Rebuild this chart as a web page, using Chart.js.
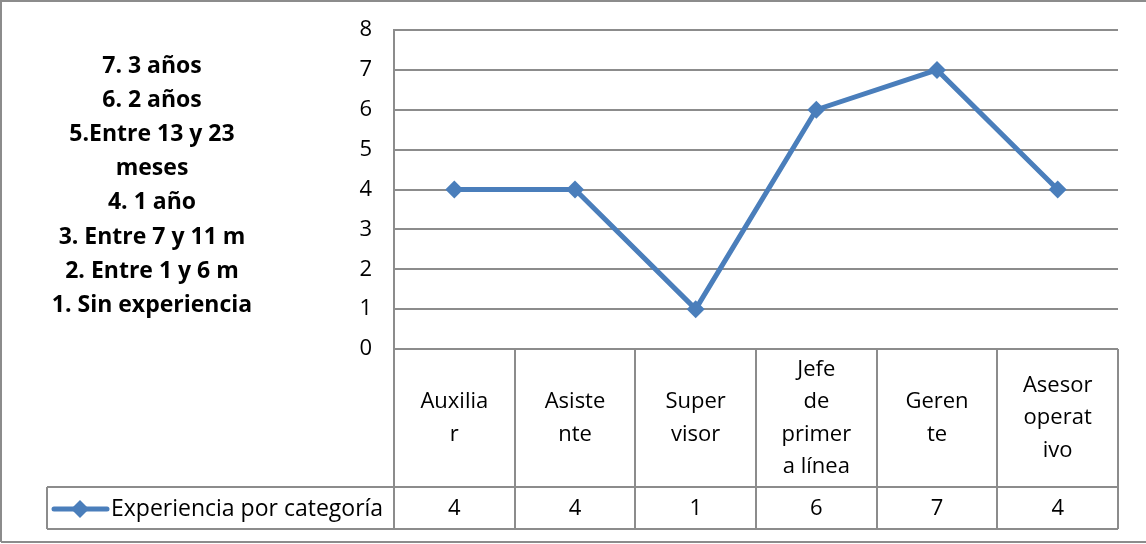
<!DOCTYPE html>
<html>
<head>
<meta charset="utf-8">
<script src="https://cdn.jsdelivr.net/npm/chart.js@4"></script>
<style>
  html, body { margin: 0; padding: 0; background: #fff; }
  #wrap { width: 1146px; height: 544px; position: relative; }
</style>
</head>
<body>
<div id="wrap"><canvas id="myChart" width="1146" height="544"></canvas></div>
<script>
// data
const categories = [
  ['Auxilia', 'r'],
  ['Asiste', 'nte'],
  ['Super', 'visor'],
  ['Jefe', 'de', 'primer', 'a línea'],
  ['Geren', 'te'],
  ['Asesor', 'operat', 'ivo']
];
const experiencia = [4, 4, 1, 6, 7, 4];
const seriesName = 'Experiencia por categoría';
const yTicks = [0, 1, 2, 3, 4, 5, 6, 7, 8];
const scaleNotes = [
  '7. 3 años',
  '6. 2 años',
  '5.Entre 13 y 23',
  'meses',
  '4. 1 año',
  '3. Entre 7 y 11 m',
  '2. Entre 1 y 6 m',
  '1. Sin experiencia'
];

const lineColor = '#4a7ebb';
const gridColor = '#8c8c8c';
const font = 'Open Sans';

// draws the data table under the plot, the side notes and the outer frame
const tablePlugin = {
  id: 'dataTable',
  afterDraw(chart) {
    const ctx = chart.ctx;
    const area = chart.chartArea;
    const x = chart.scales.x;
    const top = area.bottom;
    const rowSplit = 487;
    const bottom = 529;
    const legendLeft = 47;
    const n = categories.length;
    const step = (area.right - area.left) / n;

    ctx.save();
    ctx.strokeStyle = gridColor;
    ctx.lineWidth = 2;
    ctx.beginPath();
    // vertical cell lines
    for (let i = 0; i <= n; i++) {
      const px = Math.round(area.left + i * step);
      ctx.moveTo(px, top);
      ctx.lineTo(px, bottom);
    }
    ctx.moveTo(legendLeft, rowSplit);
    ctx.lineTo(area.right, rowSplit);
    ctx.moveTo(legendLeft, bottom);
    ctx.lineTo(area.right, bottom);
    ctx.moveTo(legendLeft, rowSplit);
    ctx.lineTo(legendLeft, bottom);
    ctx.stroke();

    // outer frame
    ctx.beginPath();
    ctx.moveTo(1, 542);
    ctx.lineTo(1, 1);
    ctx.lineTo(1146, 1);
    ctx.moveTo(1, 542);
    ctx.lineTo(1146, 542);
    ctx.stroke();

    // category labels
    ctx.fillStyle = '#000';
    ctx.textAlign = 'center';
    ctx.textBaseline = 'middle';
    ctx.font = '22px "' + font + '"';
    const lh = 32.5;
    const mid = (top + rowSplit) / 2;
    categories.forEach((lines, i) => {
      const cx = x.getPixelForValue(i);
      const y0 = mid - (lines.length - 1) * lh / 2;
      lines.forEach((t, j) => ctx.fillText(t, cx, y0 + j * lh));
    });

    // values row
    const vy = (rowSplit + bottom) / 2 + 1;
    experiencia.forEach((v, i) => {
      ctx.fillText(String(v), x.getPixelForValue(i), vy);
    });

    // legend key
    ctx.strokeStyle = lineColor;
    ctx.lineWidth = 5;
    ctx.lineCap = 'round';
    ctx.beginPath();
    ctx.moveTo(54, vy);
    ctx.lineTo(107, vy);
    ctx.stroke();
    ctx.fillStyle = lineColor;
    ctx.beginPath();
    ctx.moveTo(80, vy - 9);
    ctx.lineTo(89, vy);
    ctx.lineTo(80, vy + 9);
    ctx.lineTo(71, vy);
    ctx.closePath();
    ctx.fill();
    ctx.fillStyle = '#000';
    ctx.textAlign = 'left';
    ctx.font = '23px "' + font + '"';
    ctx.fillText(seriesName, 111, vy);

    // side notes
    ctx.textAlign = 'center';
    ctx.font = 'bold 23px "' + font + '"';
    scaleNotes.forEach((t, i) => {
      ctx.fillText(t, 152, 66 + i * 34.2);
    });
    ctx.restore();
  }
};

const ctx = document.getElementById('myChart').getContext('2d');
const expChart = new Chart(ctx, {
  type: 'line',
  data: {
    labels: categories,
    datasets: [{
      label: seriesName,
      data: experiencia,
      borderColor: lineColor,
      backgroundColor: lineColor,
      borderWidth: 5,
      pointStyle: 'rectRot',
      pointRadius: 9,
      pointHoverRadius: 9,
      pointBorderWidth: 0,
      tension: 0
    }]
  },
  options: {
    responsive: false,
    animation: false,
    layout: {
      padding: { left: 334, right: 28, top: 30, bottom: 195 }
    },
    plugins: {
      legend: { display: false },
      tooltip: { enabled: false }
    },
    scales: {
      x: {
        display: false,
        offset: true
      },
      y: {
        min: 0,
        max: 8,
        afterFit(scale) {
          scale.width = 60;
          scale.paddingTop = 0;
          scale.paddingBottom = 0;
        },
        afterBuildTicks(scale) {
          scale.ticks = yTicks.map(v => ({ value: v }));
        },
        grid: {
          color: gridColor,
          lineWidth: 2,
          drawTicks: false
        },
        border: { color: gridColor, width: 2 },
        ticks: {
          padding: 22,
          color: '#000',
          font: { family: font, size: 22 }
        }
      }
    }
  },
  plugins: [tablePlugin]
});
</script>
</body>
</html>
